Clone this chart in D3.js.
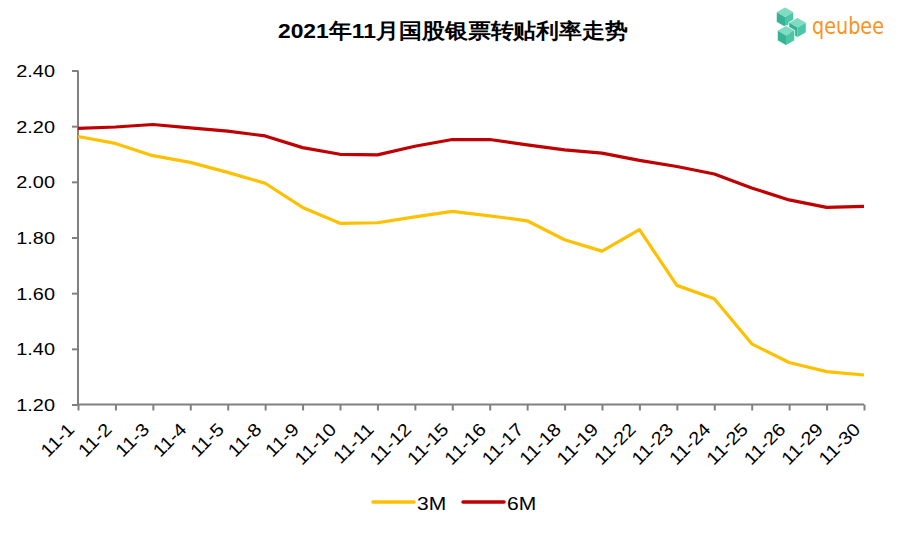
<!DOCTYPE html>
<html><head><meta charset="utf-8">
<script src="https://cdn.jsdelivr.net/npm/d3@7"></script>
<style>body{margin:0;background:#fff}svg{display:block}</style>
</head><body>
<svg id="c" width="904" height="533"></svg>
<script>
const categories = ["11-1","11-2","11-3","11-4","11-5","11-8","11-9","11-10","11-11","11-12","11-15","11-16","11-17","11-18","11-19","11-22","11-23","11-24","11-25","11-26","11-29","11-30"];
const series3M = [2.163,2.138,2.094,2.070,2.034,1.995,1.908,1.851,1.853,1.874,1.894,1.878,1.860,1.792,1.751,1.828,1.628,1.580,1.418,1.351,1.318,1.306];
const series6M = [2.192,2.197,2.206,2.194,2.182,2.165,2.123,2.099,2.097,2.128,2.152,2.152,2.133,2.115,2.103,2.077,2.055,2.028,1.978,1.935,1.908,1.912];
const yTicks = [1.20,1.40,1.60,1.80,2.00,2.20,2.40];
const title = "2021年11月国股银票转贴利率走势";
const seriesList = [{name:"3M", values: series3M, color:"#FFC000"},{name:"6M", values: series6M, color:"#C00000"}];

const svg = d3.select("#c");
const font = "'Liberation Sans', Arial, sans-serif";
const SX = 1.17;
const x = d3.scalePoint().domain(categories).range([78, 864]);
const y = d3.scaleLinear().domain([1.2, 2.4]).range([404.5, 70.5]);

svg.append("text").attr("transform","translate(453,37.5) scale(1.09,1)").attr("text-anchor","middle")
  .attr("font-family", font).attr("font-weight","bold").attr("font-size", 21).attr("fill","#000").text(title);

// y axis
const yAx = svg.append("g").attr("transform","translate(78,0)")
  .call(d3.axisLeft(y).tickValues(yTicks).tickFormat(d3.format(".2f")).tickSize(6).tickPadding(16));
yAx.select(".domain").attr("stroke","#808080").attr("stroke-width",2).attr("d","M0,70.5V404.5");
yAx.selectAll(".tick line").attr("stroke","#808080").attr("stroke-width",2);
yAx.selectAll(".tick text").attr("font-family", font).attr("font-size", 17).attr("fill","#000")
  .attr("x",0).attr("dy",null).attr("y",0)
  .attr("transform",`translate(-23,6) scale(${SX},1)`);

// x axis
const xAx = svg.append("g").attr("transform","translate(0,404.5)")
  .call(d3.axisBottom(x).tickSize(6).tickSizeOuter(0));
xAx.select(".domain").attr("stroke","#808080").attr("stroke-width",2).attr("d","M78,0H864");
xAx.selectAll(".tick line").attr("stroke","#808080").attr("stroke-width",2);
xAx.selectAll(".tick text").attr("font-family", font).attr("font-size", 18).attr("fill","#000")
  .attr("text-anchor","end").attr("dy",null).attr("y",0)
  .attr("transform","translate(-3,26) rotate(-45) scale(1.12,1)");

// lines
const line = d3.line().x((d,i)=>x(categories[i])).y(d=>y(d));
seriesList.forEach(s=>{
  svg.append("path").datum(s.values).attr("d", line).attr("fill","none")
    .attr("stroke", s.color).attr("stroke-width", 3.2).attr("stroke-linejoin","round");
});

// legend
const lg = svg.append("g");
const legX = [373, 463];
seriesList.forEach((s,i)=>{
  lg.append("line").attr("x1",legX[i]).attr("x2",legX[i]+41).attr("y1",502).attr("y2",502)
    .attr("stroke",s.color).attr("stroke-width",3.5).attr("stroke-linecap","round");
  lg.append("text").attr("transform",`translate(${legX[i]+44},509.5) scale(${SX},1)`)
    .attr("font-family",font).attr("font-size",18).attr("fill","#000").text(s.name);
});

// logo
const logo = svg.append("g");
const cube = (cx, cy, s) => {
  const g = logo.append("g").attr("transform",`translate(${cx},${cy})`);
  const h = s*0.5, w = s*0.87;
  g.append("path").attr("d",`M0,${-s} L${w},${-h} L0,0 L${-w},${-h}Z`).attr("fill","#7fdcc2");
  g.append("path").attr("d",`M${-w},${-h} L0,0 L0,${s} L${-w},${h}Z`).attr("fill","#36b394");
  g.append("path").attr("d",`M${w},${-h} L0,0 L0,${s} L${w},${h}Z`).attr("fill","#4cc6a7");
  g.append("path").attr("d",`M0,${-s} L${w},${-h} L${w},${h} L0,${s} L${-w},${h} L${-w},${-h}Z`)
    .attr("fill","none").attr("stroke","#fff").attr("stroke-width",0.8);
};
cube(785, 17, 10);
cube(797.5, 27.5, 10);
cube(786, 35.5, 10);
logo.append("text").attr("x",812).attr("y",34).attr("font-family","'DejaVu Sans', sans-serif")
  .attr("font-size",23).attr("fill","#F7941D").attr("textLength",72).attr("lengthAdjust","spacingAndGlyphs").text("qeubee");
</script>
</body></html>
